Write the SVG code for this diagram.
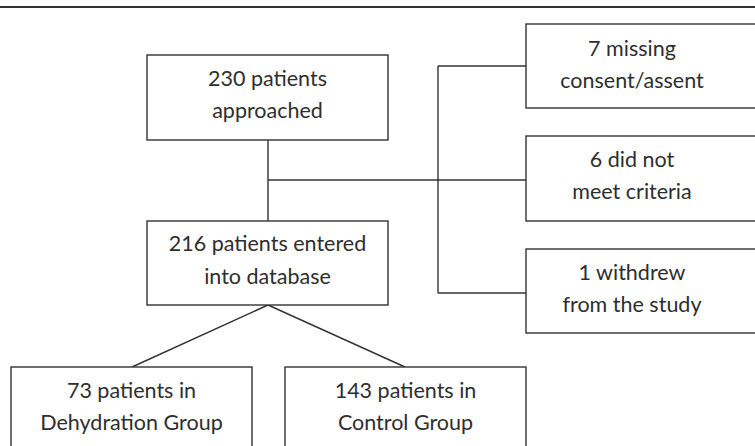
<svg xmlns="http://www.w3.org/2000/svg" width="755" height="446" viewBox="0 0 755 446">
<style>
.box{fill:#fff;stroke:#333;stroke-width:1.4}
.ln{fill:none;stroke:#333;stroke-width:1.4}
text{font-family:Lato,"Liberation Sans",sans-serif;font-size:21.5px;fill:#2e2e2e;text-anchor:middle}
</style>
<rect width="755" height="446" fill="#fff"/>
<line x1="0" y1="7" x2="755" y2="7" stroke="#333" stroke-width="1.8"/>
<g id="connectors">
<path class="ln" d="M268 140V221"/>
<path class="ln" d="M268 180H438"/>
<path class="ln" d="M438 66V293"/>
<path class="ln" d="M438 66H526M438 180H526M438 293H526"/>
<path class="ln" d="M268 305L132 367M268 305L405 367"/>
</g>
<g id="approached"><rect class="box" x="147" y="55" width="241" height="85"/><text x="267.5" y="86">230 patients</text><text x="267.5" y="118">approached</text></g>
<g id="entered"><rect class="box" x="147" y="221" width="241" height="84"/><text x="267.5" y="251">216 patients entered</text><text x="267.5" y="284">into database</text></g>
<g id="missing"><rect class="box" x="526" y="24" width="240" height="84"/><text x="632" y="56">7 missing</text><text x="632" y="88">consent/assent</text></g>
<g id="criteria"><rect class="box" x="526" y="136" width="240" height="85"/><text x="632" y="167">6 did not</text><text x="632" y="199">meet criteria</text></g>
<g id="withdrew"><rect class="box" x="526" y="249" width="240" height="84"/><text x="632" y="280">1 withdrew</text><text x="632" y="312">from the study</text></g>
<g id="dehydration"><rect class="box" x="11" y="367" width="241" height="90"/><text x="131.5" y="398">73 patients in</text><text x="131.5" y="430">Dehydration Group</text></g>
<g id="control"><rect class="box" x="285" y="367" width="241" height="90"/><text x="405.5" y="398">143 patients in</text><text x="405.5" y="430">Control Group</text></g>
</svg>
